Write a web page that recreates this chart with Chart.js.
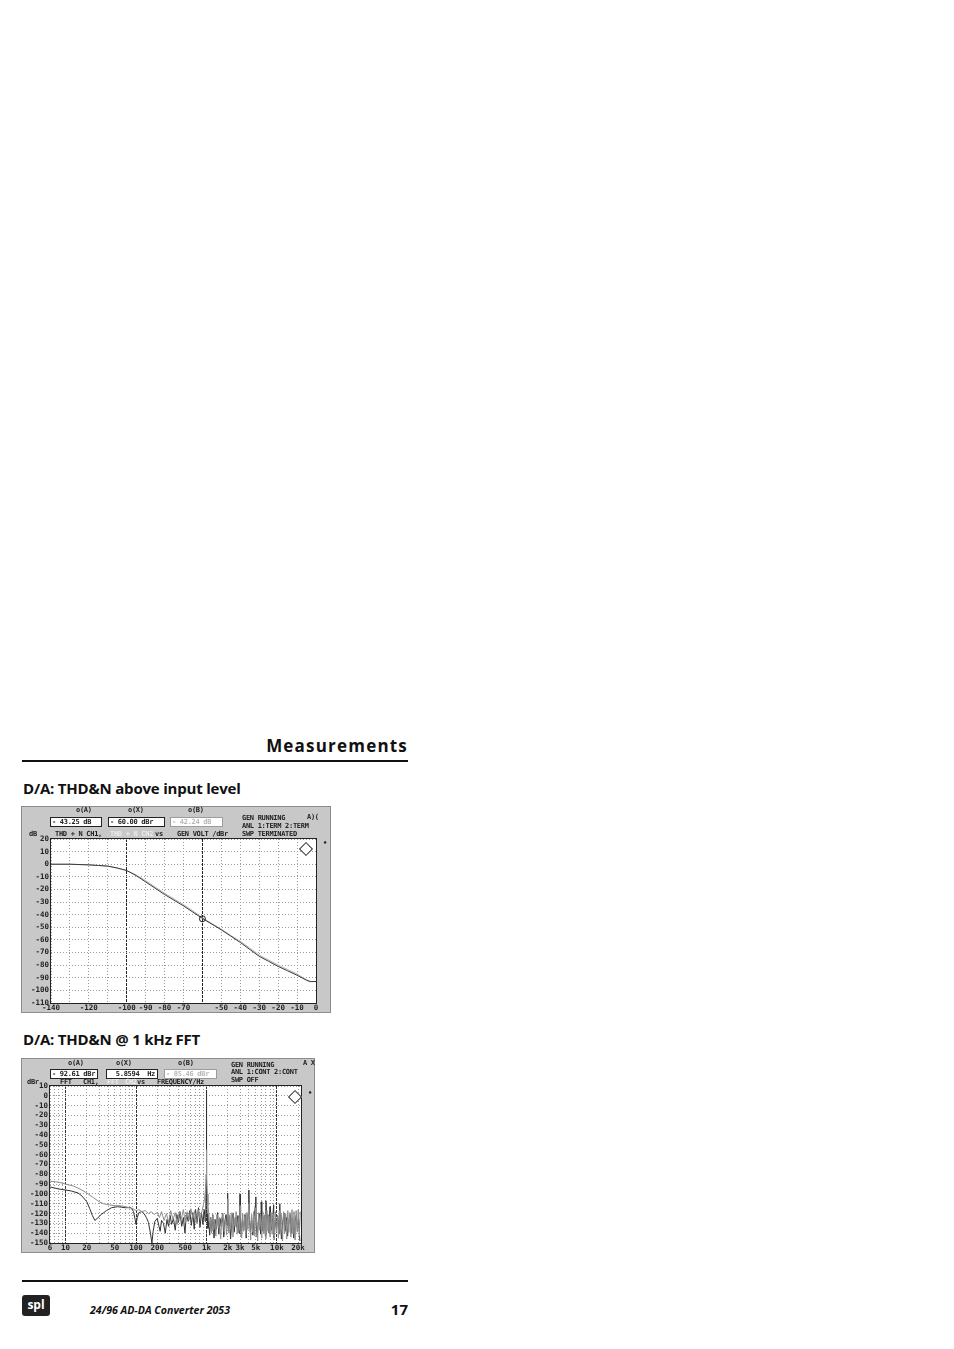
<!DOCTYPE html>
<html>
<head>
<meta charset="utf-8">
<script src="https://cdn.jsdelivr.net/npm/chart.js@4.4.1/dist/chart.umd.min.js"></script>
<style>
  body { margin: 0; width: 954px; height: 1349px; background: #fff; position: relative; overflow: hidden; font-family: "Open Sans", sans-serif; color: #111 }
  .abs { position: absolute; white-space: nowrap }
  .rule { position: absolute; left: 22px; width: 386px; height: 2px; background: #111 }
  .panel { position: absolute; background: #c8c8c8; box-shadow: inset 0 0 0 1px #8c8c8c }
  .panel canvas { position: absolute; left: 0; top: 0 }
  .mono { position: absolute; white-space: nowrap; font-family: "DejaVu Sans Mono", monospace; font-size: 7px; font-weight: bold; letter-spacing: -0.3px; line-height: 8px; color: #222 }
  .dim { color: #ececec }
  .box { position: absolute; height: 10px; box-sizing: border-box; background: #fff; border: 1px solid #222; font-family: "DejaVu Sans Mono", monospace; font-size: 7px; font-weight: bold; letter-spacing: -0.3px; line-height: 8px; color: #222; padding-left: 1px; white-space: pre }
  .box.off { border-color: #9c9c9c; color: #b8b8b8 }
  .logo { position: absolute; width: 8px; height: 8px; border: 1px solid #333; background: #fff; transform: rotate(45deg) }
</style>
</head>
<body>

<div class="abs" style="right:546px; top:735px; font-size:17px; font-weight:bold; letter-spacing:1.2px; line-height:22px">Measurements</div>
<div class="rule" style="top:760px"></div>

<div class="abs" style="left:23px; top:778px; font-size:15px; font-weight:bold; letter-spacing:-0.2px; line-height:21px">D/A: THD&amp;N above input level</div>

<!-- panel 1: THD+N vs level -->
<div class="panel" style="left:21px; top:806px; width:310px; height:207px">
  <canvas id="levelChart" width="310" height="207"></canvas>
</div>
<div class="mono" style="left:76px; top:806px">o(A)</div>
<div class="mono" style="left:128px; top:806px">o(X)</div>
<div class="mono" style="left:188px; top:806px">o(B)</div>
<div class="box" style="left:50px; top:817px; width:52px">- 43.25 dB</div>
<div class="box" style="left:108px; top:817px; width:57px">- 60.00 dBr</div>
<div class="box off" style="left:170px; top:817px; width:53px">- 42.24 dB</div>
<div class="mono" style="left:29px; top:830px">dB</div>
<div class="mono" style="left:55px; top:830px">THD + N CH1,</div>
<div class="mono dim" style="left:110px; top:830px">THD + N CH2</div>
<div class="mono" style="left:155px; top:830px">vs</div>
<div class="mono" style="left:177px; top:830px">GEN VOLT /dBr</div>
<div class="mono" style="left:242px; top:814px">GEN RUNNING</div>
<div class="mono" style="left:242px; top:822px">ANL 1:TERM 2:TERM</div>
<div class="mono" style="left:242px; top:830px">SWP TERMINATED</div>
<div class="mono" style="left:307px; top:813px">A)(</div>
<div class="mono" style="left:323px; top:839px">•</div>
<div class="logo" style="left:301px; top:844px"></div>

<div class="abs" style="left:23px; top:1029px; font-size:15px; font-weight:bold; letter-spacing:-0.2px; line-height:21px">D/A: THD&amp;N @ 1 kHz FFT</div>

<!-- panel 2: FFT -->
<div class="panel" style="left:21px; top:1058px; width:294px; height:195px">
  <canvas id="fftChart" width="294" height="195"></canvas>
</div>
<div class="mono" style="left:68px; top:1059px">o(A)</div>
<div class="mono" style="left:116px; top:1059px">o(X)</div>
<div class="mono" style="left:178px; top:1059px">o(B)</div>
<div class="box" style="left:50px; top:1069px; width:48px">- 92.61 dBr</div>
<div class="box" style="left:106px; top:1069px; width:52px">  5.8594  Hz</div>
<div class="box off" style="left:164px; top:1069px; width:53px">- 85.46 dBr</div>
<div class="mono" style="left:27px; top:1078px">dBr</div>
<div class="mono" style="left:60px; top:1078px">FFT</div>
<div class="mono" style="left:83px; top:1078px">CH1,</div>
<div class="mono dim" style="left:107px; top:1078px">FFT</div>
<div class="mono dim" style="left:125px; top:1078px">CH2</div>
<div class="mono" style="left:137px; top:1078px">vs</div>
<div class="mono" style="left:157px; top:1078px">FREQUENCY/Hz</div>
<div class="mono" style="left:231px; top:1061px">GEN RUNNING</div>
<div class="mono" style="left:231px; top:1068px">ANL 1:CONT 2:CONT</div>
<div class="mono" style="left:231px; top:1076px">SWP OFF</div>
<div class="mono" style="left:303px; top:1059px">A X</div>
<div class="mono" style="left:308px; top:1089px">•</div>
<div class="logo" style="left:290px; top:1092px"></div>

<div class="rule" style="top:1280px"></div>
<div class="abs" style="left:22px; top:1295px; width:28px; height:21px; background:#222; border-radius:3px; color:#fff; font-size:12px; font-weight:bold; line-height:19px; text-align:center">spl</div>
<div class="abs" style="left:90px; top:1302px; font-size:10.6px; font-weight:bold; font-style:italic; line-height:16px">24/96 AD-DA Converter 2053</div>
<div class="abs" style="right:546px; top:1299px; font-size:15px; font-weight:bold; line-height:20px">17</div>

<script>
// THD+N vs generator level (dBr -> dB)
const levelDbr = [-140, -130, -120, -115, -110, -105, -100, -95, -90, -85, -80, -75, -70, -65, -60, -55, -50, -45, -40, -35, -30, -25, -20, -15, -10, -5, -3, 0]
const thdCh1 = [0, 0, -0.5, -1, -1.5, -3, -5, -9, -14, -19, -24, -28.5, -33, -38, -43, -47.5, -52, -57, -62, -67.5, -73, -77, -81, -84.5, -88, -92, -93, -93]
const thdCh2 = [0, 0, -0.5, -1, -1.5, -3, -5, -8.5, -13, -18, -23, -27.5, -32, -37, -42.5, -47, -51.5, -56.5, -61, -66.5, -72, -76, -80, -83.5, -87, -91.5, -93, -93]
const levelCursorA = -60
const thdCursorA = -43.25
const levelTicks = [-140, -130, -120, -110, -100, -90, -80, -70, -60, -50, -40, -30, -20, -10, 0]
const levelLabels = [-140, -120, -100, -90, -80, -70, -50, -40, -30, -20, -10, 0]
const levelCursors = [-100, -60]
const thdTicks = [20, 10, 0, -10, -20, -30, -40, -50, -60, -70, -80, -90, -100, -110]

// FFT of 1 kHz tone, [Hz, dBr]
const fftCh1 = [
  [6, -93], [7, -94], [8, -95], [10, -96], [12, -97], [15, -99], [17, -102], [20, -108], [22, -115], [24, -122],
  [26, -127], [28, -125], [32, -121], [38, -117], [45, -114], [55, -113], [70, -114], [85, -114], [92, -118], [97, -126],
  [100, -131], [104, -124], [110, -119], [120, -118], [130, -120], [140, -124], [150, -129], [160, -140], [168, -150], [175, -138],
  [185, -128], [200, -125], [210, -132], [220, -138], [230, -127], [245, -130], [260, -140], [275, -126], [290, -133], [305, -122],
  [320, -131], [340, -125], [360, -137], [380, -121], [400, -129], [420, -118], [445, -133], [470, -124], [495, -140], [520, -120],
  [550, -128], [580, -117], [610, -132], [640, -119], [670, -136], [700, -116], [735, -129], [770, -114], [810, -134], [850, -119],
  [890, -131], [930, -116], [960, -128], [980, -110], [990, -90], [995, -40], [1000, 6], [1005, -40], [1010, -95], [1020, -120],
  [1050, -135], [1080, -128], [1110, -142], [1150, -124], [1190, -138], [1230, -121], [1280, -145], [1330, -126], [1380, -136], [1440, -119],
  [1500, -141], [1560, -125], [1620, -133], [1690, -120], [1760, -144], [1830, -127], [1900, -121], [1960, -132], [1990, -115], [2000, -99],
  [2010, -118], [2050, -137], [2120, -123], [2200, -146], [2290, -128], [2380, -120], [2480, -139], [2580, -124], [2690, -134], [2800, -122],
  [2900, -140], [2970, -118], [3000, -100], [3030, -121], [3120, -143], [3250, -126], [3380, -137], [3520, -121], [3660, -145], [3800, -127],
  [3950, -118], [4000, -96], [4050, -122], [4200, -139], [4380, -125], [4560, -142], [4750, -123], [4950, -112], [5000, -103], [5050, -126],
  [5250, -144], [5450, -129], [5680, -120], [5900, -141], [6000, -108], [6100, -125], [6350, -138], [6600, -122], [6870, -143], [7000, -107],
  [7150, -128], [7450, -121], [7750, -140], [8000, -113], [8070, -126], [8400, -137], [8750, -124], [9000, -111], [9100, -145], [9480, -127],
  [9870, -135], [10280, -122], [10700, -141], [11000, -110], [11150, -126], [11600, -146], [12100, -129], [12600, -120], [13100, -138], [13650, -124],
  [14200, -143], [14800, -127], [15400, -121], [16000, -140], [16700, -125], [17400, -145], [18100, -128], [18850, -122], [19600, -137], [20400, -126],
  [21200, -148]
]
const fftCh2 = [
  [6, -87], [8, -88], [10, -90], [13, -92], [16, -95], [20, -99], [25, -104], [30, -108], [35, -110], [40, -111],
  [50, -112], [60, -112], [70, -113], [80, -114], [90, -115], [100, -117], [110, -116], [120, -118], [135, -117], [150, -120],
  [165, -118], [180, -121], [200, -119], [215, -124], [230, -118], [250, -127], [270, -120], [290, -129], [310, -117], [335, -126],
  [360, -119], [385, -131], [410, -118], [440, -125], [470, -116], [500, -129], [530, -118], [565, -127], [600, -115], [640, -124],
  [680, -117], [720, -130], [765, -116], [810, -125], [860, -118], [900, -112], [940, -105], [970, -95], [985, -80], [995, -62],
  [1000, -55], [1005, -62], [1015, -82], [1030, -100], [1050, -112], [1080, -120], [1110, -134], [1140, -125], [1180, -140], [1220, -122],
  [1260, -137], [1310, -126], [1360, -143], [1410, -121], [1470, -135], [1530, -124], [1590, -146], [1650, -127], [1720, -120], [1790, -139],
  [1860, -125], [1930, -142], [1990, -118], [2000, -105], [2020, -123], [2080, -140], [2150, -121], [2220, -136], [2300, -119], [2380, -144],
  [2460, -124], [2550, -133], [2640, -118], [2730, -141], [2830, -125], [2930, -137], [3000, -112], [3060, -122], [3160, -145], [3270, -120],
  [3380, -138], [3500, -123], [3620, -142], [3750, -119], [3880, -136], [3990, -110], [4100, -124], [4240, -147], [4390, -121], [4540, -139],
  [4700, -118], [4860, -143], [5000, -114], [5150, -126], [5330, -148], [5510, -119], [5700, -137], [5900, -122], [6100, -145], [6310, -118],
  [6530, -140], [6750, -121], [6980, -146], [7220, -117], [7470, -138], [7730, -123], [8000, -144], [8280, -119], [8560, -141], [8860, -120],
  [9170, -147], [9490, -118], [9820, -139], [10160, -122], [10510, -145], [10870, -117], [11250, -137], [11640, -121], [12040, -148], [12460, -118],
  [12890, -140], [13340, -120], [13800, -146], [14280, -117], [14780, -139], [15290, -119], [15820, -144], [16370, -116], [16940, -141], [17530, -118],
  [18140, -147], [18770, -117], [19420, -139], [20100, -116], [20800, -143], [21500, -118]
]
const freqTicks = [6, 7, 8, 9, 10, 20, 30, 40, 50, 60, 70, 80, 90, 100, 200, 300, 400, 500, 600, 700, 800, 900,
  1000, 2000, 3000, 4000, 5000, 6000, 7000, 8000, 9000, 10000, 20000]
const freqLabels = { 6: '6', 10: '10', 20: '20', 50: '50', 100: '100', 200: '200', 500: '500', 1000: '1k', 2000: '2k', 3000: '3k', 5000: '5k', 10000: '10k', 20000: '20k' }
const freqDecades = [10, 100, 1000, 10000]
const fftTicks = [10, 0, -10, -20, -30, -40, -50, -60, -70, -80, -90, -100, -110, -120, -130, -140, -150]

const tickFont = { family: 'DejaVu Sans Mono', size: 7.5, weight: 'bold' }

// white plot area and black frame, like the analyzer screen
const plotFrame = {
  id: 'plotFrame',
  beforeDraw(chart) {
    const a = chart.chartArea
    const c = chart.ctx
    c.save()
    c.fillStyle = '#fff'
    c.fillRect(a.left, a.top, a.right - a.left, a.bottom - a.top)
    c.restore()
  },
  afterDraw(chart) {
    const a = chart.chartArea
    const c = chart.ctx
    c.save()
    c.strokeStyle = '#222'
    c.lineWidth = 1
    c.strokeRect(a.left - 0.5, a.top - 0.5, a.right - a.left + 1, a.bottom - a.top + 1)
    c.restore()
  }
}

const toPoints = (xs, ys) => xs.map((x, i) => ({ x: x, y: ys[i] }))
const pairsToPoints = (pairs) => pairs.map(p => ({ x: p[0], y: p[1] }))

function yAxis(min, max, ticks, width) {
  return {
    type: 'linear',
    min: min,
    max: max,
    afterBuildTicks: s => { s.ticks = ticks.map(v => ({ value: v })) },
    afterFit: s => { s.width = width },
    ticks: { autoSkip: false, padding: 2, color: '#222', font: tickFont },
    grid: { drawTicks: false, color: '#9a9a9a', lineWidth: 1 },
    border: { display: false, dash: [1, 2] }
  }
}

new Chart(document.getElementById('levelChart'), {
  type: 'line',
  data: {
    datasets: [{
      data: [{ x: levelCursorA, y: thdCursorA }],
      showLine: false,
      pointRadius: 3,
      pointBorderWidth: 1,
      pointBorderColor: '#222',
      pointBackgroundColor: 'rgba(0,0,0,0)',
      order: 0
    }, {
      data: toPoints(levelDbr, thdCh1),
      borderColor: '#3a3a3a',
      borderWidth: 1,
      pointRadius: 0,
      order: 1
    }, {
      data: toPoints(levelDbr, thdCh2),
      borderColor: '#b4b4b4',
      borderWidth: 1,
      pointRadius: 0,
      order: 2
    }]
  },
  options: {
    responsive: false,
    animation: false,
    events: [],
    layout: { padding: { top: 33, right: 15, left: 0, bottom: 0 } },
    plugins: { legend: { display: false }, tooltip: { enabled: false } },
    scales: {
      x: {
        type: 'linear',
        min: -140,
        max: 0,
        afterBuildTicks: s => { s.ticks = levelTicks.map(v => ({ value: v })) },
        afterFit: s => { s.height = 10 },
        ticks: {
          autoSkip: false,
          maxRotation: 0,
          padding: 1,
          color: '#222',
          font: tickFont,
          callback: v => levelLabels.includes(v) ? String(v) : ''
        },
        grid: {
          drawTicks: false,
          lineWidth: 1,
          color: c => levelCursors.includes(c.tick && c.tick.value) ? '#222' : '#9a9a9a'
        },
        border: {
          display: false,
          dash: c => levelCursors.includes(c.tick && c.tick.value) ? [3, 1] : [1, 2]
        }
      },
      y: yAxis(-110, 20, thdTicks, 30)
    }
  },
  plugins: [plotFrame]
})

new Chart(document.getElementById('fftChart'), {
  type: 'line',
  data: {
    datasets: [{
      data: pairsToPoints(fftCh1),
      borderColor: '#333',
      borderWidth: 1,
      pointRadius: 0,
      order: 2
    }, {
      data: pairsToPoints(fftCh2),
      borderColor: '#8e8e8e',
      borderWidth: 1,
      pointRadius: 0,
      order: 1
    }]
  },
  options: {
    responsive: false,
    animation: false,
    events: [],
    layout: { padding: { top: 28, right: 14, left: 0, bottom: 0 } },
    plugins: { legend: { display: false }, tooltip: { enabled: false } },
    scales: {
      x: {
        type: 'logarithmic',
        min: 6,
        max: 22000,
        afterBuildTicks: s => { s.ticks = freqTicks.map(v => ({ value: v })) },
        afterFit: s => { s.height = 10 },
        ticks: {
          autoSkip: false,
          maxRotation: 0,
          padding: 1,
          color: '#222',
          font: tickFont,
          callback: v => freqLabels[v] || ''
        },
        grid: {
          drawTicks: false,
          lineWidth: 1,
          color: c => freqDecades.includes(c.tick && c.tick.value) ? '#333' : '#9a9a9a'
        },
        border: {
          display: false,
          dash: c => freqDecades.includes(c.tick && c.tick.value) ? [3, 1] : [1, 2]
        }
      },
      y: yAxis(-150, 10, fftTicks, 29)
    }
  },
  plugins: [plotFrame]
})
</script>
</body>
</html>
